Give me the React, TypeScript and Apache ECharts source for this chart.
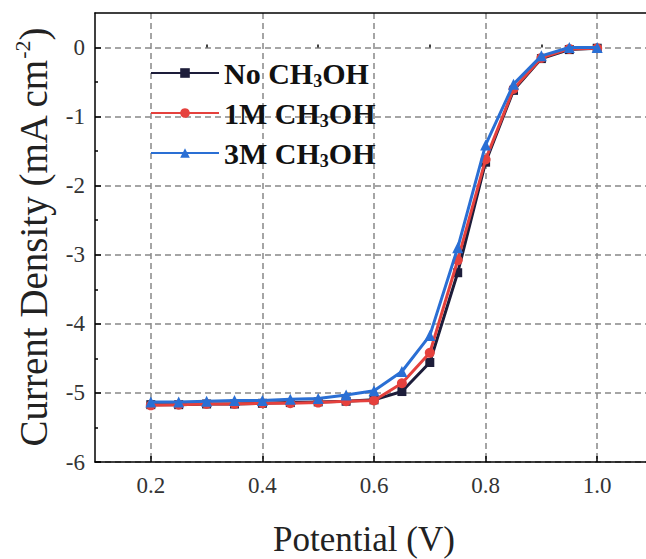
import React, { useEffect, useRef } from "react";
import * as echarts from "echarts";

const potentials = [0.2, 0.25, 0.3, 0.35, 0.4, 0.45, 0.5, 0.55, 0.6, 0.65, 0.7, 0.75, 0.8, 0.85, 0.9, 0.95, 1.0];
const noMeOH = [-5.17, -5.17, -5.16, -5.16, -5.15, -5.14, -5.13, -5.12, -5.1, -4.98, -4.56, -3.26, -1.66, -0.62, -0.16, -0.03, -0.01];
const meOH1M = [-5.18, -5.17, -5.16, -5.16, -5.15, -5.15, -5.14, -5.12, -5.11, -4.86, -4.42, -3.08, -1.62, -0.6, -0.15, -0.02, -0.01];
const meOH3M = [-5.13, -5.13, -5.12, -5.11, -5.11, -5.09, -5.08, -5.03, -4.97, -4.69, -4.17, -2.9, -1.41, -0.53, -0.12, 0, 0];
const seriesNames = ["No", "1M", "3M"];
const xMajor = [0.2, 0.4, 0.6, 0.8, 1.0];
const xMinor = [0.3, 0.5, 0.7, 0.9];
const yMajor = [-6, -5, -4, -3, -2, -1, 0];
const yMinor = [-5.5, -4.5, -3.5, -2.5, -1.5, -0.5];

const SERIF = "Liberation Serif";

export default function App() {
  const ref = useRef<HTMLDivElement>(null);
  useEffect(() => {
    document.body.style.margin = "0";
    const chart = echarts.init(ref.current!, null, { renderer: "svg" });
    const colors = ["#1d1d3a", "#e5413d", "#2a6fd4"];
    const symbols = ["rect", "circle", "triangle"];
    const sizes = [9, 10, 11];
    const data = [noMeOH, meOH1M, meOH3M];
    const labelStyle = { fontFamily: SERIF, fontSize: 23, color: "#333" };
    chart.setOption({
      animation: false,
      grid: {
        left: 95, top: 13, width: 558, height: 449,
        outerBoundsMode: "none", containLabel: false,
        show: false,
      },
      legend: {
        left: 145,
        top: 53,
        orient: "vertical",
        itemWidth: 68,
        itemHeight: 12,
        itemGap: 8,
        data: seriesNames.map((n) => n + " CH3OH"),
        formatter: (name: string) => {
          const pre = name.split(" ")[0];
          return `{b|${pre} CH}{s|3}{b|OH}`;
        },
        textStyle: {
          rich: {
            b: { fontFamily: SERIF, fontSize: 30, fontWeight: "bold", color: "#111", lineHeight: 34 },
            s: { fontFamily: SERIF, fontSize: 18, fontWeight: "bold", color: "#111", lineHeight: 18, verticalAlign: "bottom" },
          },
        },
      },
      xAxis: [
        {
          type: "value",
          min: 0.1,
          max: 1.1,
          name: "Potential (V)",
          nameLocation: "middle",
          nameGap: 60,
          nameTextStyle: { fontFamily: SERIF, fontSize: 35, color: "#222", padding: [0, 20, 0, 0] },
          axisLine: { show: true, onZero: false, lineStyle: { color: "#000", width: 1.5 } },
          axisTick: { show: true, inside: true, length: 6, customValues: xMajor, lineStyle: { color: "#000", width: 1.5 } },
          axisLabel: { customValues: xMajor, formatter: (v: number) => v.toFixed(1), margin: 12, ...labelStyle },
          splitLine: { show: true, lineStyle: { color: "#888", type: [6, 4], width: 1.5 } },
        },
        {
          type: "value",
          min: 0.1,
          max: 1.1,
          position: "bottom",
          axisLine: { show: false },
          axisTick: { show: true, inside: true, length: 3, customValues: xMinor, lineStyle: { color: "#000", width: 1.5 } },
          axisLabel: { show: false },
          splitLine: { show: false },
        },
        {
          type: "value",
          min: 0.1,
          max: 1.1,
          position: "top",
          axisLine: { show: true, onZero: false, lineStyle: { color: "#000", width: 1.5 } },
          axisTick: { show: false },
          axisLabel: { show: false },
          splitLine: { show: false },
        },
      ],
      yAxis: [
        {
          type: "value",
          min: -6,
          max: 0.5,
          name: "{n|Current Density (mA cm}{p|-2}{n|)}",
          nameLocation: "middle",
          nameGap: 40,
          nameRotate: 90,
          nameTextStyle: {
            rich: {
              n: { fontFamily: SERIF, fontSize: 39, color: "#222", lineHeight: 44 },
              p: { fontFamily: SERIF, fontSize: 22, color: "#222", lineHeight: 22, verticalAlign: "top" },
            },
          },
          axisLine: { show: true, onZero: false, lineStyle: { color: "#000", width: 1.5 } },
          axisTick: { show: true, inside: true, length: 6, customValues: yMajor, lineStyle: { color: "#000", width: 1.5 } },
          axisLabel: { customValues: yMajor, margin: 10, ...labelStyle },
          splitLine: { show: true, lineStyle: { color: "#888", type: [6, 4], width: 1.5 } },
        },
        {
          type: "value",
          min: -6,
          max: 0.5,
          position: "left",
          axisLine: { show: false },
          axisTick: { show: true, inside: true, length: 3, customValues: yMinor, lineStyle: { color: "#000", width: 1.5 } },
          axisLabel: { show: false },
          splitLine: { show: false },
        },
      ],
      series: data.map((d, i) => ({
        name: seriesNames[i] + " CH3OH",
        type: "line",
        data: d.map((v, j) => [potentials[j], v]),
        symbol: symbols[i],
        symbolSize: sizes[i],
        showSymbol: true,
        lineStyle: { color: colors[i], width: 3 },
        itemStyle: { color: colors[i] },
        z: 3 + i,
      })),
    });
    return () => chart.dispose();
  }, []);
  return <div ref={ref} style={{ width: 646, height: 559 }} />;
}
